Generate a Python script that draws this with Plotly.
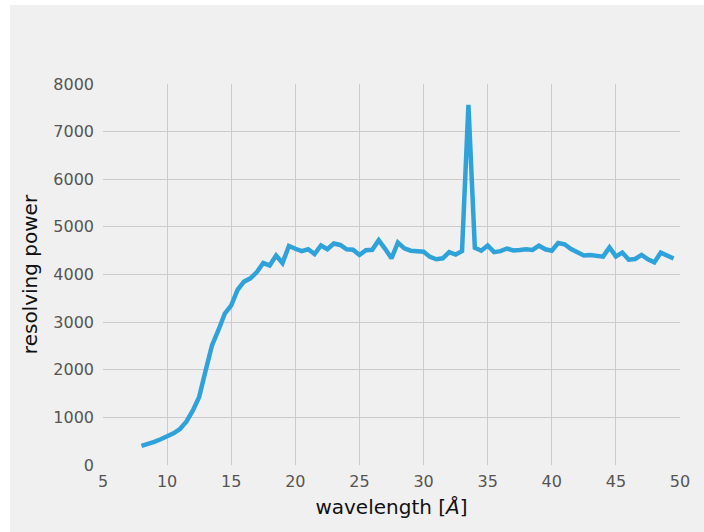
import plotly.graph_objects as go

wavelength = [8.0 + 0.5 * i for i in range(84)]
resolving_power = [
    400, 435, 485, 540, 595, 665, 755, 910, 1140, 1430,
    1980, 2510, 2830, 3180, 3350, 3680, 3850, 3920, 4050, 4240,
    4190, 4400, 4240, 4600, 4540, 4490, 4530, 4430, 4610, 4530,
    4650, 4620, 4530, 4520, 4410, 4510, 4520, 4720, 4540, 4340,
    4670, 4550, 4500, 4490, 4480, 4370, 4320, 4340, 4470, 4420,
    4490, 7560, 4560, 4500, 4610, 4470, 4490, 4545, 4505, 4515,
    4530, 4515, 4605, 4530, 4500, 4660, 4635, 4535, 4480, 4400,
    4410, 4400, 4375, 4570, 4380, 4460, 4310, 4325, 4410, 4320,
    4255, 4460, 4405, 4335,
]
x_ticks = [5, 10, 15, 20, 25, 30, 35, 40, 45, 50]
y_ticks = [0, 1000, 2000, 3000, 4000, 5000, 6000, 7000, 8000]

BG = "#f0f0f0"
GRID = "#cbcbcb"
LINE = "#30a2da"
FONT = "DejaVu Sans"
TICK_COLOR = "#555555"
TITLE_COLOR = "#111111"

fig = go.Figure()
fig.add_trace(go.Scatter(
    x=wavelength, y=resolving_power, mode="lines",
    line=dict(color=LINE, width=4.5), showlegend=False, hoverinfo="skip",
))

# plot area in pixels: x 103..680, y 84..465
L, R, T, B = 103, 24, 84, 67
W, H = 704, 532
pw, ph = W - L - R, H - T - B
# grey figure background with thin white strip at left/top
fig.add_shape(
    type="rect", xref="paper", yref="paper", layer="below",
    x0=(10 - L) / pw, x1=(W - L) / pw,
    y0=-B / ph, y1=(ph + T - 5) / ph,
    fillcolor=BG, line=dict(width=0),
)

fig.update_layout(
    width=W, height=H,
    margin=dict(l=L, r=R, t=T, b=B, pad=0),
    paper_bgcolor="white", plot_bgcolor="rgba(0,0,0,0)",
    font=dict(family=FONT, size=16, color=TICK_COLOR),
)
fig.update_xaxes(
    range=[5, 50], tickvals=x_ticks, ticktext=[str(v) for v in x_ticks],
    showgrid=True, gridcolor=GRID, gridwidth=1.3, zeroline=False,
    showline=False, ticks="", ticklabelstandoff=5,
    tickfont=dict(family=FONT, size=16, color=TICK_COLOR),
    title=dict(text="wavelength [<i>Å</i>]", standoff=9,
               font=dict(family=FONT, size=20, color=TITLE_COLOR)),
)
fig.update_yaxes(
    range=[0, 8000], tickvals=y_ticks, ticktext=[str(v) for v in y_ticks],
    showgrid=True, gridcolor=GRID, gridwidth=1.3, zeroline=False,
    showline=False, ticks="", ticklabelstandoff=8,
    tickfont=dict(family=FONT, size=16, color=TICK_COLOR),
    title=dict(text="resolving power", standoff=10,
               font=dict(family=FONT, size=20, color=TITLE_COLOR)),
)

fig.write_html("out.html")
